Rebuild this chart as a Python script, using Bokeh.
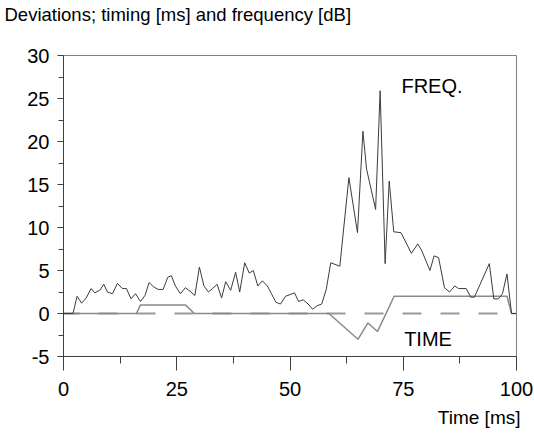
from bokeh.plotting import figure
from bokeh.models import Range1d, Label, SingleIntervalTicker, Title, PrintfTickFormatter
from bokeh.embed import file_html
from bokeh.resources import INLINE

# Data
freq_t = [0, 2.1, 3.0, 4.0, 5.0, 6.1, 6.9, 8.0, 8.9, 9.7, 10.8, 11.9, 13.0, 13.9, 14.9,
          15.9, 17.0, 18.0, 18.9, 19.9, 20.9, 22.0, 23.0, 23.8, 24.7, 25.8, 26.9, 27.9,
          29.0, 30.0, 31.0, 32.0, 32.9, 33.9, 34.9, 35.8, 36.9, 38.0, 38.9, 40.0, 41.0,
          41.9, 42.9, 43.9, 45.0, 45.9, 46.9, 47.9, 49.0, 50.0, 51.0, 51.9, 52.9, 54.0,
          55.0, 56.0, 57.0, 58.0, 59.0, 61.0, 63.0, 64.9, 66.1, 66.9, 68.9, 69.9, 71.0,
          71.9, 72.9, 74.5, 76.8, 78.2, 79.0, 80.9, 81.8, 82.8, 84.1, 85.2, 86.4, 87.2,
          88.9, 89.9, 90.7, 94.0, 95.0, 96.0, 96.9, 97.9, 98.9, 100]
freq_v = [0, 0, 2.0, 1.2, 1.8, 2.9, 2.4, 2.7, 3.4, 2.5, 2.3, 3.5, 2.9, 2.9, 1.7,
          2.3, 1.4, 2.1, 3.6, 3.1, 2.8, 2.8, 4.2, 4.4, 3.2, 2.3, 3.0, 2.6,
          2.1, 5.4, 3.2, 2.5, 2.9, 3.4, 1.8, 3.7, 2.7, 4.8, 2.5, 5.9, 4.7,
          5.0, 3.2, 3.8, 3.2, 2.3, 1.3, 1.1, 2.0, 2.2, 2.4, 1.4, 1.6, 1.1,
          0.5, 0.9, 1.1, 2.8, 5.9, 5.5, 15.8, 9.4, 21.2, 16.8, 12.1, 25.9, 5.8,
          15.4, 9.5, 9.4, 7.0, 8.1, 7.4, 5.0, 6.7, 6.5, 3.0, 2.5, 3.2, 2.9,
          2.9, 1.9, 1.9, 5.8, 1.7, 1.7, 2.3, 4.6, 0, 0]

time_t = [0, 16.1, 17.0, 26.9, 28.9, 58.6, 65.0, 67.2, 69.3, 73.0, 97.9, 98.9, 100]
time_v = [0, 0, 1.0, 1.0, 0, 0, -3.0, -1.1, -2.1, 2.0, 2.0, 0, 0]

zero_t = [0, 100]
zero_v = [0, 0]

FONT = "Liberation Sans"

p = figure(width=534, height=434, output_backend="svg", toolbar_location=None,
           x_range=Range1d(0, 100), y_range=Range1d(-5, 30),
           min_border_left=63, min_border_right=18, min_border_top=55,
           min_border_bottom=78)
p.xgrid.visible = False
p.ygrid.visible = False
p.outline_line_color = "#808080"
p.outline_line_width = 1
p.background_fill_color = "white"
p.border_fill_color = "white"

# title above, left-aligned at the page edge (blank 2nd line lifts it up)
p.title.text = "Deviations; timing [ms] and frequency [dB]\n "
p.title.align = "left"
p.title.offset = -59
p.title.standoff = 3
p.title.text_line_height = 1.36
p.title.text_font = FONT
p.title.text_font_size = "18.5px"
p.title.text_font_style = "normal"
p.title.text_color = "black"

# x axis label as a title below, right aligned
p.add_layout(Title(text="Time [ms]", align="right", text_font=FONT,
                   text_font_size="19px", text_font_style="normal",
                   text_color="black", standoff=13, offset=-4), "below")

# axes
xa = p.xaxis[0]
xa.ticker = SingleIntervalTicker(interval=25, num_minor_ticks=2)
xa.major_tick_out = 14
xa.major_tick_in = 0
xa.minor_tick_out = 7
xa.minor_tick_in = 0
xa.axis_line_color = "#404040"
xa.major_tick_line_color = "#404040"
xa.minor_tick_line_color = "#404040"
xa.major_label_text_font = FONT
xa.major_label_text_font_size = "20px"
xa.major_label_text_color = "black"
xa.major_label_standoff = 11
xa.formatter = PrintfTickFormatter(format="%d")

ya = p.yaxis[0]
ya.ticker = SingleIntervalTicker(interval=5, num_minor_ticks=2)
ya.major_tick_out = 6
ya.major_tick_in = 0
ya.minor_tick_out = 5
ya.minor_tick_in = 0
ya.axis_line_color = "#404040"
ya.major_tick_line_color = "#404040"
ya.minor_tick_line_color = "#404040"
ya.major_label_text_font = FONT
ya.major_label_text_font_size = "20px"
ya.major_label_text_color = "black"
ya.major_label_standoff = 8
ya.formatter = PrintfTickFormatter(format="%d")

# lines
p.line(zero_t, zero_v, line_color="#9a9a9a", line_width=2, line_dash="19 19",
       line_dash_offset=3)
p.line(time_t, time_v, line_color="#8a8a8a", line_width=1.5)
p.line(freq_t, freq_v, line_color="#3c3c3c", line_width=1)

# texts inside the plot
p.add_layout(Label(x=74.6, y=26.5, text="FREQ.", text_font=FONT,
                   text_font_size="20px", text_color="black",
                   text_baseline="alphabetic", text_align="left"))
p.add_layout(Label(x=75.2, y=-3.0, text="TIME", text_font=FONT,
                   text_font_size="20px", text_color="black",
                   text_baseline="alphabetic", text_align="left"))

open("out.html", "w").write(file_html(p, INLINE))
